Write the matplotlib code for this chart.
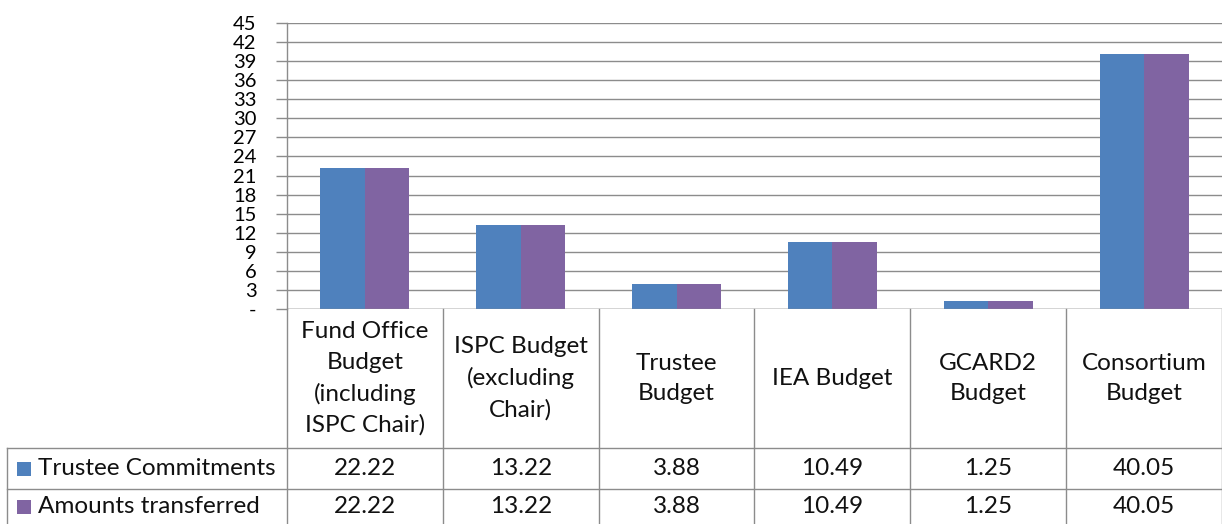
import matplotlib
matplotlib.use("Agg")
import matplotlib.pyplot as plt
import matplotlib.transforms as mtransforms
from matplotlib.patches import Rectangle
import numpy as np

plt.rcParams['font.family'] = ['Lato', 'DejaVu Sans']

categories = ["Fund Office\nBudget\n(including\nISPC Chair)",
              "ISPC Budget\n(excluding\nChair)",
              "Trustee\nBudget",
              "IEA Budget",
              "GCARD2\nBudget",
              "Consortium\nBudget"]
series_names = ["Trustee Commitments", "Amounts transferred"]
commitments = [22.22, 13.22, 3.88, 10.49, 1.25, 40.05]
transferred = [22.22, 13.22, 3.88, 10.49, 1.25, 40.05]
colors = ["#4F81BD", "#8064A2"]
yticks = list(range(0, 46, 3))

W, H = 1222, 524
fig = plt.figure(figsize=(W / 100, H / 100), dpi=100)
# plot area in pixels: left 287, right 1222, top 23, bottom 309
ax = fig.add_axes([287 / W, (H - 309) / H, (W - 287) / W, (309 - 23) / H])

x = np.arange(len(categories))
bw = 0.286
ax.bar(x - bw / 2, commitments, bw, color=colors[0], zorder=3)
ax.bar(x + bw / 2, transferred, bw, color=colors[1], zorder=3)

ax.set_xlim(-0.5, len(categories) - 0.5)
ax.set_ylim(0, 45)
ax.set_yticks(yticks)
ax.set_yticklabels(["-"] + [str(t) for t in yticks[1:]], fontsize=14.5)
ax.tick_params(axis='y', length=8, width=1, pad=14, colors='#000000')
ax.tick_params(axis='y', color='#8C8C8C')
ax.set_xticks([])
ax.grid(axis='y', color='#8C8C8C', linewidth=1, zorder=0)
for s in ['top', 'right', 'bottom']:
    ax.spines[s].set_visible(False)
ax.spines['left'].set_color('#8C8C8C')
ax.spines['left'].set_linewidth(1)
ax.axhline(0, color='#8C8C8C', linewidth=1, zorder=4)

# data table below the plot: x in data units, y in axes units
tr = mtransforms.blended_transform_factory(ax.transData, ax.transAxes)
px = 1 / (309 - 23)
y_head_bot = -(448 - 309) * px
y_row1_bot = -(489 - 309) * px
y_row2_bot = -(530 - 309) * px
x_left = -0.5 - (287 - 7) / ((W - 287) / len(categories))
x_right = len(categories) - 0.5
lc = '#8C8C8C'

def line(xs, ys):
    ax.plot(xs, ys, color=lc, linewidth=1, transform=tr, clip_on=False, zorder=5)

for b in np.arange(-0.5, len(categories), 1.0):
    line([b, b], [0, y_row2_bot])
line([x_left, x_right], [y_head_bot, y_head_bot])
line([x_left, x_right], [y_row1_bot, y_row1_bot])
line([x_left, x_left], [y_head_bot, y_row2_bot])

fs = 17.5
tc = '#111111'
for i, cat in enumerate(categories):
    ax.text(i, y_head_bot / 2, cat, transform=tr, ha='center', va='center',
            fontsize=fs, linespacing=1.55, color=tc)
    ax.text(i, (y_head_bot + y_row1_bot) / 2, f"{commitments[i]:.2f}", transform=tr,
            ha='center', va='center', fontsize=fs, color=tc)
    ax.text(i, (y_row1_bot + y_row2_bot) / 2 + 0.01, f"{transferred[i]:.2f}", transform=tr,
            ha='center', va='center', fontsize=fs, color=tc)

row_ys = [(y_head_bot + y_row1_bot) / 2, (y_row1_bot + y_row2_bot) / 2 + 0.01]
for name, c, yy in zip(series_names, colors, row_ys):
    key_w = 14 / ((W - 287) / len(categories))
    ax.add_patch(Rectangle((x_left + 10 / 155.8, yy - 7 * px), key_w, 14 * px,
                           facecolor=c, transform=tr, clip_on=False))
    ax.text(x_left + 31 / 155.8, yy, name, transform=tr, ha='left', va='center',
            fontsize=fs, color=tc)

fig.savefig("out.png", dpi=100)
